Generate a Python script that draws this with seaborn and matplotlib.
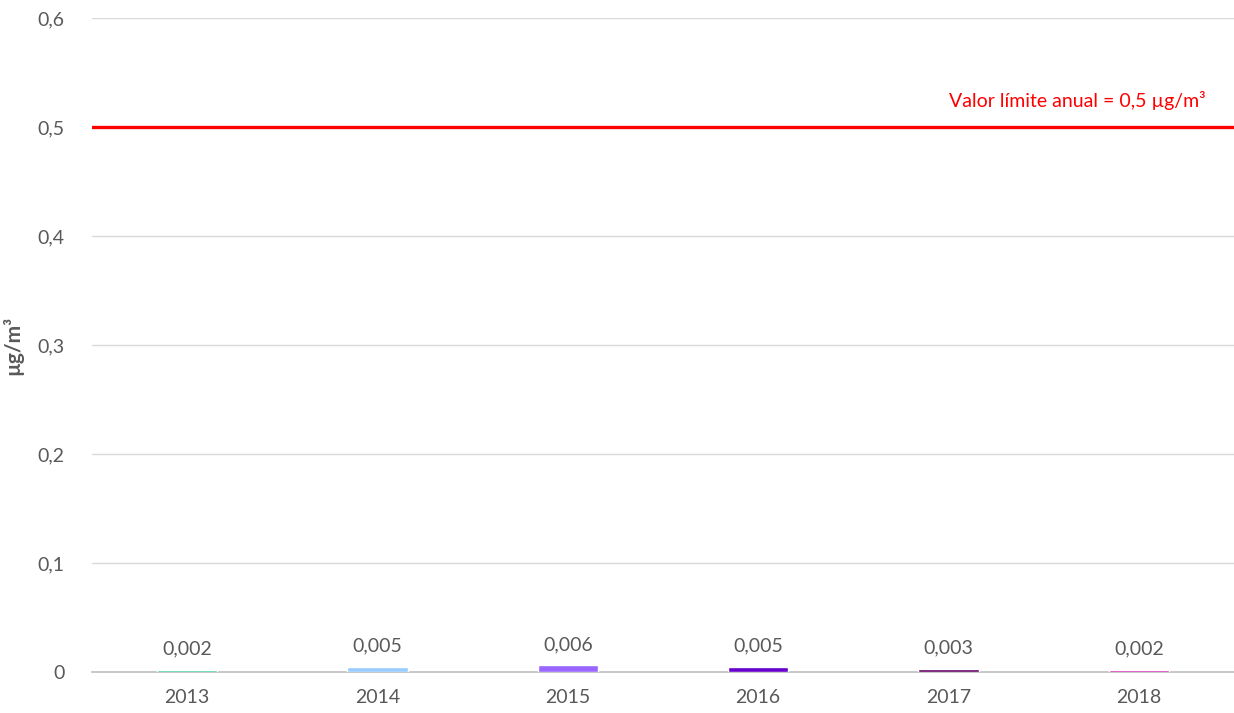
import matplotlib
matplotlib.use("Agg")
import matplotlib.pyplot as plt
import seaborn as sns
import pandas as pd
from matplotlib.ticker import FuncFormatter

years = ["2013", "2014", "2015", "2016", "2017", "2018"]
values = [0.002, 0.005, 0.006, 0.005, 0.003, 0.002]
colors = ["#1FC78F", "#99CCFF", "#9966FF", "#6600CC", "#660066", "#CC00AA"]
limit_value = 0.5
limit_label = "Valor límite anual = 0,5 µg/m³"
y_label = "µg/m³"

sns.set_theme(style="white")
plt.rcParams["font.family"] = ["Lato", "DejaVu Sans"]

df = pd.DataFrame({"year": years, "value": values})

fig = plt.figure(figsize=(12.34, 7.13), dpi=100)
ax = fig.add_axes([0.0746, 0.0575, 0.9254, 0.9173])

sns.barplot(data=df, x="year", y="value", hue="year", palette=colors,
            width=0.316, legend=False, ax=ax, saturation=1, zorder=3)

ax.set_ylim(0, 0.6)
ax.set_yticks([0, 0.1, 0.2, 0.3, 0.4, 0.5, 0.6])
ax.yaxis.set_major_formatter(FuncFormatter(lambda v, p: "0" if v == 0 else f"{v:.1f}".replace(".", ",")))
ax.grid(axis="y", color="#D9D9D9", linewidth=1)
ax.set_axisbelow(True)
for s in ["top", "right", "left"]:
    ax.spines[s].set_visible(False)
ax.spines["bottom"].set_color("#BFBFBF")
ax.spines["bottom"].set_linewidth(1.2)
ax.spines["bottom"].set_zorder(2)
ax.tick_params(axis="both", length=0, labelsize=14, labelcolor="#595959")
ax.tick_params(axis="y", pad=20)
ax.tick_params(axis="x", pad=12)
ax.set_xlabel("")
ax.set_ylabel(y_label, fontsize=15, fontweight="bold", color="#595959", labelpad=10)

ax.axhline(limit_value, color="#FF0000", linewidth=2.4, zorder=4)
ax.text(0.9755, limit_value + 0.024, limit_label, transform=ax.get_yaxis_transform(),
        ha="right", va="center", color="#FF0000", fontsize=14)

for i, v in enumerate(values):
    ax.annotate(f"{v:.3f}".replace(".", ","), (i, v), xytext=(0, 9),
                textcoords="offset points", ha="center", va="bottom",
                fontsize=14, color="#595959")

fig.savefig("out.png", dpi=100)
